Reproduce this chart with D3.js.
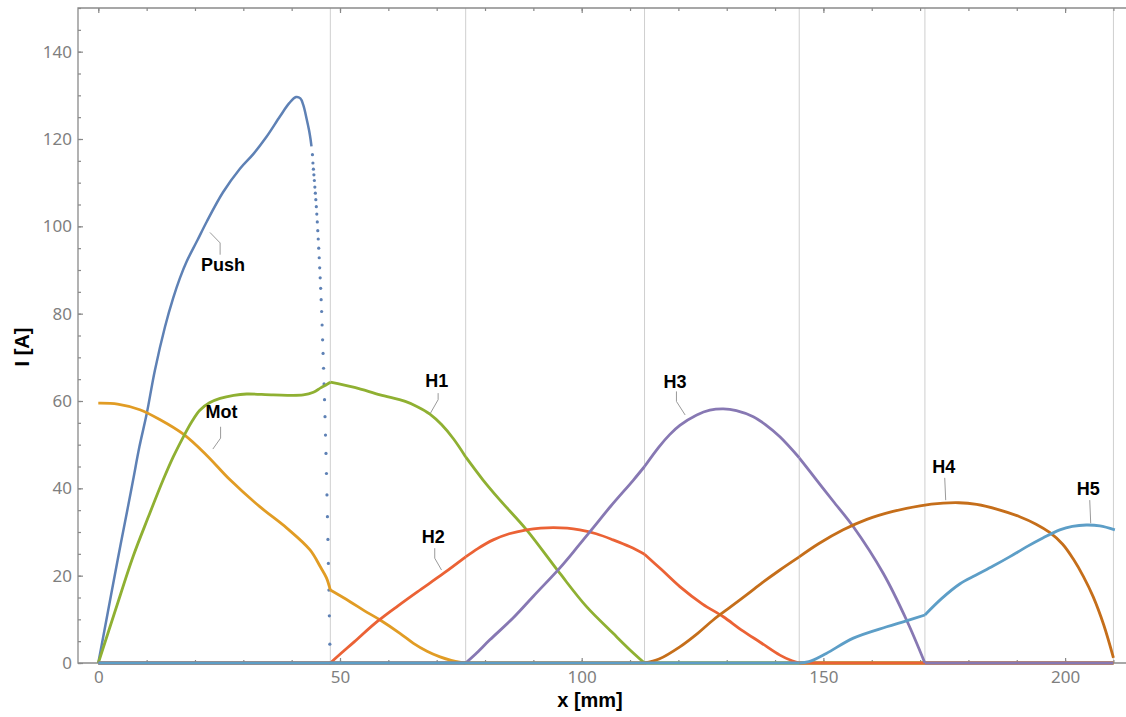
<!DOCTYPE html>
<html>
<head>
<meta charset="utf-8">
<script src="https://cdn.jsdelivr.net/npm/d3@7"></script>
<style>
body { margin: 0; background: #fff; }
</style>
</head>
<body>
<div id="graphArea"></div>
<script>
// x in mm, current in A
var pushX = [0, 2, 4, 6, 7.2, 8.5, 10, 11.7, 13.8, 15.5, 16.9, 18.3, 20.5, 22.4, 25.8, 29.3, 32.1, 34.8, 37.6, 39.5, 40.9, 41.8, 42.4, 43.1, 43.6, 43.9, 44.1];
var pushI = [0, 11.8, 23.6, 35, 41.9, 49.5, 57, 67, 77, 83.6, 88.2, 92, 96.8, 101, 107.8, 113.2, 116.6, 120.5, 125.2, 128.2, 129.6, 129.3, 127.8, 124.6, 122, 120, 118.3];
// sparse samples on the steep drop of Push
var pushDotX = [44.3, 44.4, 44.5, 44.6, 44.7, 44.8, 44.9, 45.0, 45.1, 45.2, 45.3, 45.4, 45.5, 45.6, 45.7, 45.8, 45.9, 46.0, 46.1, 46.2, 46.3, 46.4, 46.5, 46.6, 46.7, 46.8, 46.9, 47.0, 47.1, 47.2, 47.3, 47.4, 47.5, 47.6, 47.7, 47.8, 47.9, 48.0];
var pushDotI = [116.4, 114.5, 113.1, 111.8, 110.5, 109.0, 107.6, 106.1, 104.5, 102.8, 101.0, 99.0, 97.1, 95.0, 92.8, 90.5, 88.2, 85.8, 83.2, 80.5, 77.4, 74.0, 70.9, 67.5, 63.9, 60.3, 56.4, 52.2, 48.0, 43.4, 38.5, 33.5, 28.3, 22.8, 16.7, 10.8, 4.3, 0];

var motX = [0, 4, 8.6, 12.8, 17.6, 22.4, 27.2, 33.4, 39, 43.8, 45.9, 47.2, 48, 52, 55, 58.3, 62.4, 65.2, 68, 70.7, 73, 75, 76, 210];
var motI = [59.5, 59.3, 58.0, 55.7, 52.4, 47.6, 42.0, 35.8, 30.9, 25.9, 22.1, 19.5, 16.7, 14.1, 12.0, 9.85, 6.8, 4.5, 2.7, 1.4, 0.6, 0.15, 0, 0];

var h1X = [0, 3.6, 7.2, 10.3, 13.4, 15.5, 17.6, 19.3, 21, 23, 25.2, 28, 30.7, 36.2, 42.4, 44.5, 46, 47, 48, 53, 58.3, 63.5, 66, 68.6, 71, 73.5, 76, 79.6, 83.1, 88.6, 95.5, 101, 106.5, 110, 113, 210];
var h1I = [0, 12.3, 24.4, 33.3, 41.9, 47.2, 51.8, 55.2, 57.9, 59.6, 60.6, 61.3, 61.6, 61.4, 61.4, 62.0, 63.0, 63.6, 64.3, 63.1, 61.4, 59.9, 58.7, 57.0, 54.6, 51.3, 47.2, 41.9, 37.3, 30.5, 20.5, 12.9, 6.8, 3.0, 0, 0];

var h2X = [0, 48, 50, 53, 57.6, 62, 66, 71.4, 76, 78.5, 81.7, 85, 88.6, 91.5, 94.1, 97, 99.6, 103, 106.5, 110, 113, 116.5, 120.3, 125, 129.3, 133, 137, 141, 143.5, 145, 210];
var h2I = [0, 0, 2.0, 4.9, 9.4, 13.1, 16.3, 20.5, 24.3, 26.2, 28.2, 29.6, 30.5, 30.9, 31.0, 30.9, 30.5, 29.6, 28.2, 26.6, 24.9, 21.4, 17.5, 13.5, 10.6, 7.6, 4.7, 1.8, 0.5, 0, 0];

var h3X = [0, 76, 78, 81, 85.8, 90, 95.5, 99, 102.4, 106, 110.7, 113, 116, 118.2, 120.3, 123.8, 126.5, 129.3, 132, 135.5, 138, 141, 145, 148.6, 152, 156.2, 162.4, 167.2, 171, 210];
var h3I = [0, 0, 2.0, 5.3, 10.3, 15.3, 21.8, 26.4, 31.0, 35.9, 41.9, 45.0, 49.5, 52.3, 54.4, 56.8, 57.9, 58.2, 57.8, 56.4, 54.6, 51.8, 47.0, 41.9, 37.1, 31.2, 20.5, 9.85, 0, 0];

var h4X = [0, 113, 116, 120.3, 124, 127.2, 131, 134.1, 137.5, 141, 145, 149, 154.1, 159, 164.4, 170, 174.8, 178, 181.7, 186, 190.6, 194, 196.8, 199.5, 201.7, 203.8, 205.8, 208, 210];
var h4I = [0, 0, 0.9, 3.7, 6.8, 9.85, 13.0, 15.6, 18.5, 21.3, 24.3, 27.3, 30.5, 32.9, 34.7, 36.0, 36.6, 36.7, 36.3, 35.2, 33.5, 31.8, 29.9, 27.2, 23.8, 19.8, 15.2, 8.7, 1.2];

var h5X = [0, 145, 147, 150.6, 156.2, 163.1, 167, 171, 174.5, 178.2, 181.5, 185.1, 188.5, 192, 195.5, 198.9, 201.5, 204.4, 207.2, 210.3];
var h5I = [0, 0, 0.3, 2.2, 5.7, 8.3, 9.6, 11.0, 14.8, 18.1, 20.1, 22.2, 24.3, 26.6, 28.7, 30.5, 31.3, 31.6, 31.4, 30.5];

// stage boundaries (vertical grid lines)
var gridX = [48, 76, 113, 145, 171, 210];

var xTicks = [0, 50, 100, 150, 200];
var yTicks = [0, 20, 40, 60, 80, 100, 120, 140];

var colors = {
	Push: "#5E81B5", Mot: "#E19C24", H1: "#8FB032", H2: "#EB6235",
	H3: "#8778B3", H4: "#C56E1A", H5: "#5D9EC7"
};

var width = 1126, height = 717;
var margin = { top: 8, left: 78, bottom: 54, right: 0 };

var svg = d3.select("#graphArea").append("svg")
	.attr("width", width)
	.attr("height", height)
	.style("font-family", "'Liberation Sans', Arial, sans-serif");

var x = d3.scaleLinear().domain([-4.2, 212.6]).range([margin.left, width - margin.right]);
var y = d3.scaleLinear().domain([0, 150]).range([height - margin.bottom, margin.top]);

// grid
svg.append("g").selectAll("line")
	.data(gridX)
	.enter().append("line")
	.attr("x1", d => x(d)).attr("x2", d => x(d))
	.attr("y1", y(150)).attr("y2", y(0))
	.attr("stroke", "#cfcfcf")
	.attr("stroke-width", 1);

// frame + ticks (ticks point inward)
function styleAxis(g) {
	g.select(".domain").remove();
	g.selectAll(".tick line").attr("stroke", "#888").attr("stroke-width", 1.2);
	g.selectAll(".tick text")
		.attr("fill", "#7f7f7f")
		.style("font-family", "'Noto Sans', 'Open Sans', sans-serif")
		.style("font-size", "17px");
}

svg.append("g").attr("transform", "translate(0," + y(0) + ")")
	.call(d3.axisBottom(x).tickValues(d3.range(0, 211, 10)).tickSize(-3).tickFormat(""))
	.call(styleAxis);
svg.append("g").attr("transform", "translate(0," + y(0) + ")")
	.call(d3.axisBottom(x).tickValues(xTicks).tickSize(-5).tickPadding(8))
	.call(styleAxis);
svg.append("g").attr("transform", "translate(0," + y(150) + ")")
	.call(d3.axisTop(x).tickValues(d3.range(0, 211, 10)).tickSize(-3).tickFormat(""))
	.call(styleAxis);
svg.append("g").attr("transform", "translate(0," + y(150) + ")")
	.call(d3.axisTop(x).tickValues(xTicks).tickSize(-5).tickFormat(""))
	.call(styleAxis);
svg.append("g").attr("transform", "translate(" + x(-4.2) + ",0)")
	.call(d3.axisLeft(y).tickValues(d3.range(0, 151, 5)).tickSize(-3).tickFormat(""))
	.call(styleAxis);
svg.append("g").attr("transform", "translate(" + x(-4.2) + ",0)")
	.call(d3.axisLeft(y).tickValues(yTicks).tickSize(-5).tickPadding(6))
	.call(styleAxis);

svg.append("path")
	.attr("d", "M" + width + "," + y(150) + "H" + x(-4.2) + "V" + y(0) + "H" + width)
	.attr("fill", "none")
	.attr("stroke", "#8a8a8a")
	.attr("stroke-width", 1.3);

// split a series at the stage boundaries so kinks stay sharp
function segments(xs, ys) {
	var segs = [], cur = [];
	xs.forEach(function(v, i) {
		cur.push([v, ys[i]]);
		if (i > 0 && i < xs.length - 1 && gridX.indexOf(v) != -1) {
			segs.push(cur);
			cur = [[v, ys[i]]];
		}
	});
	if (cur.length > 1) segs.push(cur);
	return segs;
}

var line = d3.line()
	.x(d => x(d[0]))
	.y(d => y(d[1]))
	.curve(d3.curveCatmullRom.alpha(0.5));

var plot = svg.append("g");

// Push: measured points, continuous part as a line, steep drop as dots
plot.append("path")
	.attr("d", line([[pushDotX[pushDotX.length - 1], 0], [gridX[gridX.length - 1], 0]]))
	.attr("fill", "none").attr("stroke", colors.Push).attr("stroke-width", 2.6);
plot.append("path")
	.attr("d", line(pushX.map((v, i) => [v, pushI[i]])))
	.attr("fill", "none").attr("stroke", colors.Push).attr("stroke-width", 2.5);
plot.selectAll(".pushDot")
	.data(pushDotX.map((v, i) => [v, pushDotI[i]]))
	.enter().append("circle")
	.attr("class", "pushDot")
	.attr("cx", d => x(d[0]))
	.attr("cy", d => y(d[1]))
	.attr("r", 1.6)
	.attr("fill", colors.Push);

var series = [
	{ name: "Mot", xs: motX, ys: motI },
	{ name: "H1", xs: h1X, ys: h1I },
	{ name: "H2", xs: h2X, ys: h2I },
	{ name: "H3", xs: h3X, ys: h3I },
	{ name: "H4", xs: h4X, ys: h4I },
	{ name: "H5", xs: h5X, ys: h5I }
];

series.forEach(function(s) {
	var g = plot.append("g").attr("class", "series");
	segments(s.xs, s.ys).forEach(function(seg) {
		g.append("path")
			.attr("d", line(seg))
			.attr("fill", "none")
			.attr("stroke", colors[s.name])
			.attr("stroke-width", 2.8)
			.attr("stroke-linejoin", "round");
	});
});

// callouts: label centre and leader polyline, in data units
var callouts = [
	{ text: "Push", at: [25.8, 91.2], leader: [[23.1, 98.6], [25.2, 96.2], [25.2, 93.5]] },
	{ text: "Mot", at: [25.5, 57.6], leader: [[25.3, 54.1], [25.3, 51.5], [23.7, 49.0]] },
	{ text: "H1", at: [70.0, 64.8], leader: [[70.3, 61.8], [70.3, 60.3], [68.7, 57.2]] },
	{ text: "H2", at: [69.3, 28.9], leader: [[69.6, 26.3], [69.6, 24.0], [71.0, 21.3]] },
	{ text: "H3", at: [119.3, 64.4], leader: [[119.6, 62.2], [119.6, 59.9], [121.4, 56.8]] },
	{ text: "H4", at: [174.9, 45.1], leader: [[175.1, 42.4], [175.3, 37.3]] },
	{ text: "H5", at: [204.8, 40.0], leader: [[205.1, 37.3], [205.3, 32.0]] }
];

var leaderLine = d3.line().x(d => x(d[0])).y(d => y(d[1]));

svg.append("g").selectAll("path")
	.data(callouts)
	.enter().append("path")
	.attr("d", d => leaderLine(d.leader))
	.attr("fill", "none")
	.attr("stroke", "#9a9a9a")
	.attr("stroke-width", 1);

svg.append("g").selectAll("text")
	.data(callouts)
	.enter().append("text")
	.attr("x", d => x(d.at[0]))
	.attr("y", d => y(d.at[1]))
	.attr("text-anchor", "middle")
	.attr("dy", "0.36em")
	.style("font-weight", "bold")
	.style("font-size", "18px")
	.attr("fill", "#000")
	.text(d => d.text);

// axis titles
svg.append("text")
	.attr("x", 590)
	.attr("y", 700)
	.attr("text-anchor", "middle")
	.attr("dy", "0.35em")
	.style("font-weight", "bold")
	.style("font-size", "20px")
	.text("x [mm]");

svg.append("text")
	.attr("transform", "translate(22,347) rotate(-90)")
	.attr("text-anchor", "middle")
	.attr("dy", "0.35em")
	.style("font-weight", "bold")
	.style("font-size", "20px")
	.text("I [A]");
</script>
</body>
</html>
